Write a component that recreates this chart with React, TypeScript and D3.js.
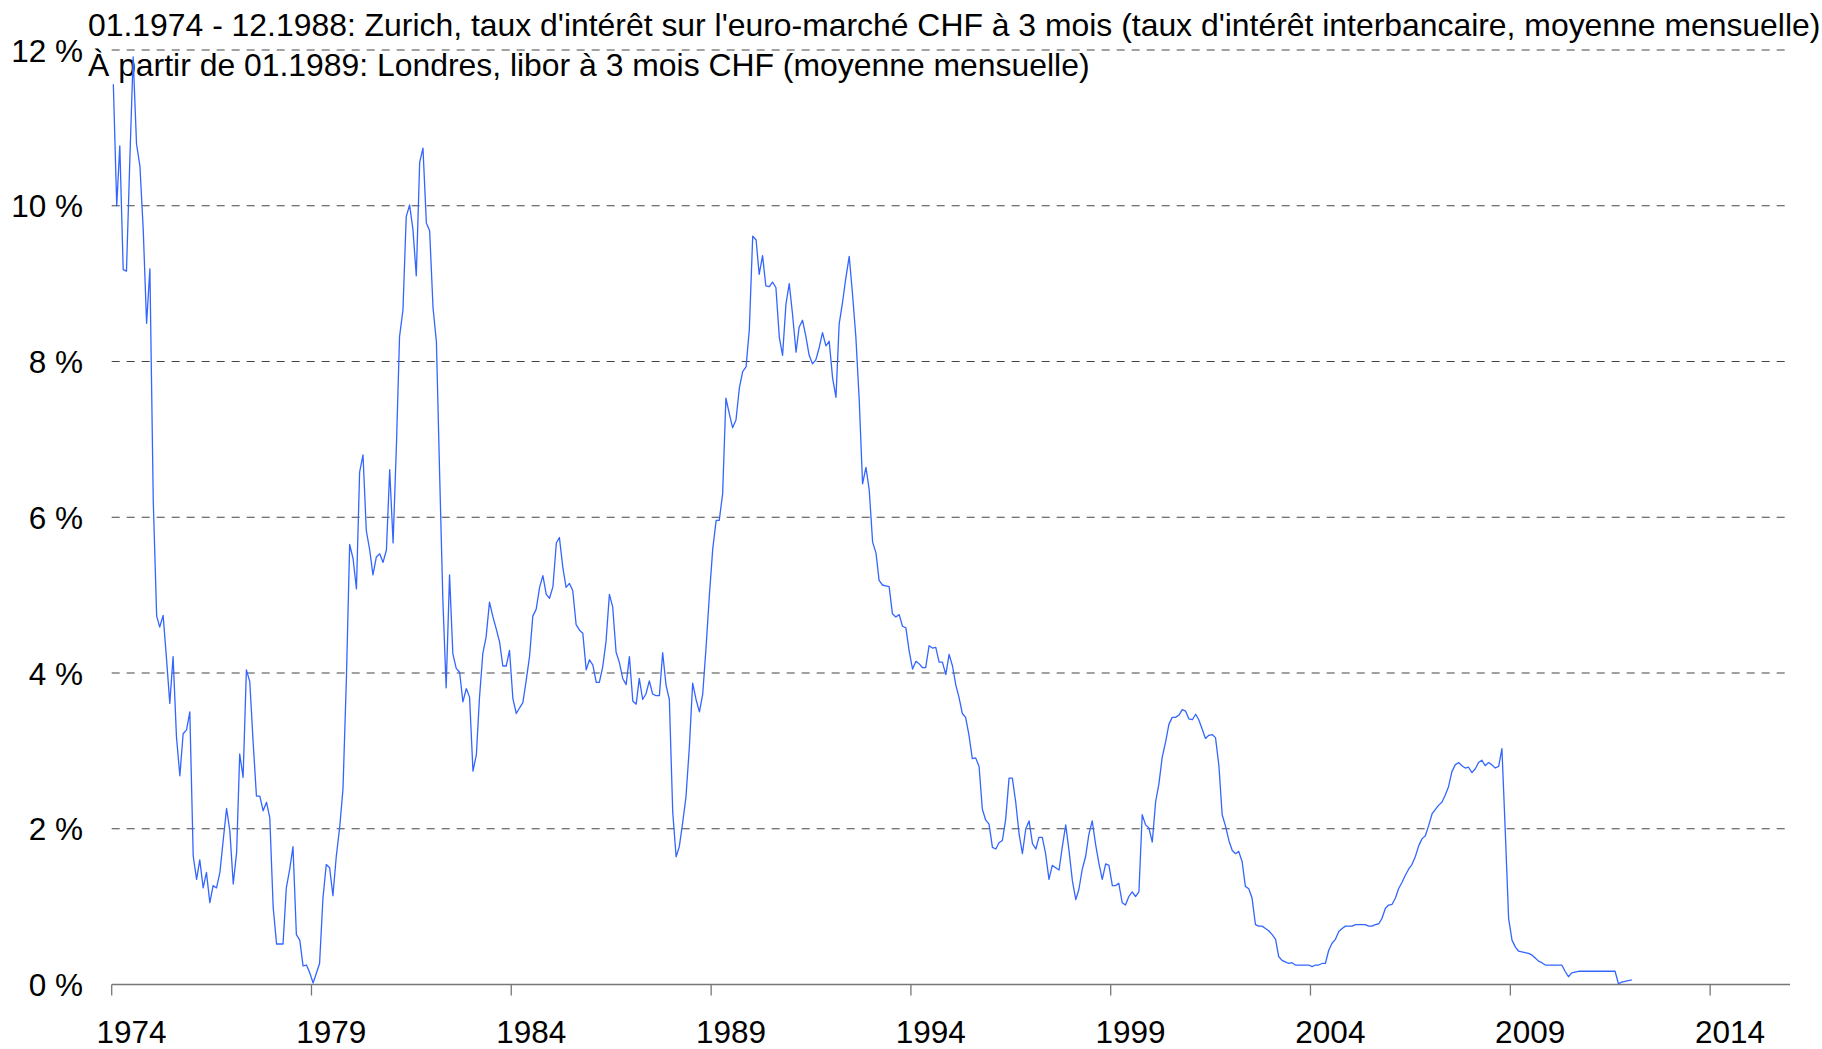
import * as d3 from 'd3'
import { useEffect, useRef } from 'react'

const titleLines = [
  "01.1974 - 12.1988: Zurich, taux d'intérêt sur l'euro-marché CHF à 3 mois (taux d'intérêt interbancaire, moyenne mensuelle)",
  'À partir de 01.1989: Londres, libor à 3 mois CHF (moyenne mensuelle)',
]

const yearTicks = [1974, 1979, 1984, 1989, 1994, 1999, 2004, 2009, 2014]
const percentTicks = [0, 2, 4, 6, 8, 10, 12]

// Zurich euro-market CHF 3 months, monthly average, one row per year
const euroMarketStart = '1974-01'
const euroMarketRates = [
  11.56, 10.0, 10.77, 9.18, 9.16, 10.6, 11.91, 10.79, 10.51, 9.7, 8.49, 9.19,
  6.2, 4.73, 4.59, 4.74, 4.2, 3.61, 4.21, 3.18, 2.68, 3.22, 3.27, 3.5,
  1.65, 1.35, 1.6, 1.24, 1.44, 1.05, 1.27, 1.24, 1.44, 1.85, 2.26, 1.97,
  1.29, 1.7, 2.96, 2.66, 4.04, 3.89, 3.13, 2.42, 2.42, 2.23, 2.34, 2.14,
  0.99, 0.52, 0.52, 0.52, 1.24, 1.48, 1.77, 0.64, 0.57, 0.24, 0.25, 0.15,
  0.02, 0.15, 0.27, 1.11, 1.54, 1.5, 1.14, 1.65, 2.02, 2.51, 3.92, 5.65,
  5.47, 5.08, 6.58, 6.8, 5.83, 5.58, 5.26, 5.49, 5.53, 5.42, 5.58, 6.61,
  5.67, 6.95, 8.32, 8.66, 9.86, 10.01, 9.7, 9.1, 10.56, 10.74, 9.78, 9.68,
  8.69, 8.25, 6.63, 4.93, 3.81, 5.26, 4.25, 4.06, 4.01, 3.63, 3.8, 3.69,
  2.74, 2.95, 3.67, 4.25, 4.46, 4.91, 4.73, 4.57, 4.4, 4.09, 4.09, 4.29,
  3.67, 3.48, 3.55, 3.62, 3.9, 4.21, 4.73, 4.82, 5.1, 5.25, 5.01, 4.96,
  5.11, 5.67, 5.74, 5.36, 5.1, 5.15, 5.06, 4.62, 4.55, 4.51, 4.04, 4.17,
  4.1, 3.88, 3.88, 4.08, 4.4, 5.01, 4.85, 4.27, 4.13, 3.93, 3.85, 4.21,
  3.64, 3.6, 3.93, 3.66, 3.73, 3.9, 3.73, 3.71, 3.71, 4.26, 3.84, 3.66,
  2.21, 1.64, 1.77, 2.08, 2.41, 3.05, 3.87, 3.66, 3.5, 3.73, 4.34, 5.0,
]

// London libor CHF 3 months, monthly average, one row per year
const liborStart = '1989-01'
const liborRates = [
  5.6, 5.96, 5.96, 6.3, 7.53, 7.33, 7.15, 7.25, 7.66, 7.87, 7.93, 8.41,
  9.61, 9.56, 9.12, 9.36, 8.97, 8.96, 9.02, 8.95, 8.31, 8.08, 8.74, 9.0,
  8.59, 8.12, 8.44, 8.53, 8.33, 8.08, 7.97, 8.02, 8.18, 8.37, 8.2, 8.26,
  7.79, 7.54, 8.48, 8.76, 9.07, 9.35, 8.87, 8.31, 7.49, 6.43, 6.64, 6.35,
  5.68, 5.54, 5.19, 5.13, 5.12, 5.11, 4.76, 4.72, 4.75, 4.6, 4.58, 4.28,
  4.05, 4.15, 4.12, 4.07, 4.07, 4.35, 4.32, 4.33, 4.14, 4.14, 3.98, 4.24,
  4.09, 3.84, 3.69, 3.48, 3.43, 3.2, 2.9, 2.91, 2.8, 2.25, 2.11, 2.06,
  1.76, 1.74, 1.82, 1.85, 2.12, 2.65, 2.65, 2.34, 1.93, 1.68, 2.0, 2.1,
  1.81, 1.74, 1.89, 1.89, 1.68, 1.35, 1.53, 1.5, 1.47, 1.77, 2.05, 1.72,
  1.33, 1.09, 1.22, 1.48, 1.64, 1.93, 2.1, 1.8, 1.55, 1.35, 1.55, 1.53,
  1.27, 1.27, 1.3, 1.05, 1.02, 1.13, 1.19, 1.13, 1.19, 2.18, 2.05, 2.01,
  1.83, 2.35, 2.57, 2.92, 3.11, 3.34, 3.43, 3.43, 3.46, 3.53, 3.51, 3.41,
  3.4, 3.47, 3.4, 3.28, 3.16, 3.2, 3.21, 3.17, 2.81, 2.18, 2.03, 1.85,
  1.72, 1.68, 1.71, 1.58, 1.26, 1.23, 1.11, 0.77, 0.75, 0.75, 0.72, 0.69,
  0.64, 0.58, 0.36, 0.31, 0.29, 0.27, 0.28, 0.25, 0.25, 0.25, 0.25, 0.25,
  0.23, 0.25, 0.25, 0.27, 0.27, 0.44, 0.53, 0.58, 0.68, 0.72, 0.75, 0.75,
  0.75, 0.77, 0.77, 0.77, 0.77, 0.75, 0.75, 0.77, 0.78, 0.85, 0.98, 1.02,
  1.03, 1.11, 1.23, 1.31, 1.4, 1.48, 1.54, 1.64, 1.78, 1.87, 1.91, 2.04,
  2.19, 2.25, 2.3, 2.34, 2.43, 2.54, 2.73, 2.82, 2.85, 2.81, 2.78, 2.79,
  2.72, 2.77, 2.85, 2.88, 2.81, 2.85, 2.82, 2.78, 2.8, 3.03, 1.95, 0.85,
  0.57, 0.48, 0.43, 0.42, 0.41, 0.4, 0.38, 0.34, 0.3, 0.28, 0.25, 0.25,
  0.25, 0.25, 0.25, 0.25, 0.17, 0.1, 0.15, 0.16, 0.17, 0.17, 0.17, 0.17,
  0.17, 0.17, 0.17, 0.17, 0.17, 0.17, 0.17, 0.17, 0.01, 0.03, 0.04, 0.05,
  0.06,
]

interface Point {
  date: Date
  value: number
}

const parseMonth = d3.timeParse('%Y-%m')

function toPoints(start: string, values: number[]): Point[] {
  const first = parseMonth(start)!
  // values are monthly averages, placed in the middle of the month
  return values.map((value, i) => ({
    date: d3.timeDay.offset(d3.timeMonth.offset(first, i), 15),
    value,
  }))
}

export default function App() {
  const svgRef = useRef<SVGSVGElement>(null)

  useEffect(() => {
    if (!svgRef.current) return
    d3.select(svgRef.current).selectAll('*').remove()

    const width = 1822
    const height = 1049
    const font = "'Liberation Sans', Arial, sans-serif"
    const svg = d3
      .select(svgRef.current)
      .attr('width', width)
      .attr('height', height)
      .style('font-family', font)

    const data = [
      ...toPoints(euroMarketStart, euroMarketRates),
      ...toPoints(liborStart, liborRates),
    ]

    const left = 111.7
    const right = 1790
    const bottom = 984.5
    const top = 50

    const x = d3
      .scaleTime()
      .domain([new Date(1974, 0, 1), new Date(2016, 0, 1)])
      .range([left, right])

    const y = d3.scaleLinear().domain([0, 12]).range([bottom, top])

    // Dashed gridlines
    svg
      .append('g')
      .selectAll('line')
      .data(percentTicks.filter(d => d > 0))
      .enter()
      .append('line')
      .attr('x1', left)
      .attr('x2', right)
      .attr('y1', d => y(d))
      .attr('y2', d => y(d))
      .attr('stroke', '#444')
      .attr('stroke-width', 1)
      .attr('stroke-dasharray', '8,7')

    // Y labels
    svg
      .append('g')
      .selectAll('text')
      .data(percentTicks)
      .enter()
      .append('text')
      .attr('x', 83)
      .attr('y', d => y(d) + 11.5)
      .attr('text-anchor', 'end')
      .style('font-size', '31.5px')
      .attr('fill', '#000')
      .text(d => `${d} %`)

    // X axis
    svg
      .append('line')
      .attr('x1', left)
      .attr('x2', right)
      .attr('y1', bottom)
      .attr('y2', bottom)
      .attr('stroke', '#777')
      .attr('stroke-width', 1.3)

    svg
      .append('g')
      .selectAll('line')
      .data(yearTicks)
      .enter()
      .append('line')
      .attr('x1', d => x(new Date(d, 0, 1)))
      .attr('x2', d => x(new Date(d, 0, 1)))
      .attr('y1', bottom)
      .attr('y2', bottom + 11)
      .attr('stroke', '#777')
      .attr('stroke-width', 1.3)

    svg
      .append('g')
      .selectAll('text')
      .data(yearTicks)
      .enter()
      .append('text')
      .attr('x', d => x(new Date(d, 6, 1)))
      .attr('y', 1043)
      .attr('text-anchor', 'middle')
      .style('font-size', '31.5px')
      .text(d => d)

    // Titles
    svg
      .append('g')
      .selectAll('text')
      .data(titleLines)
      .enter()
      .append('text')
      .attr('x', 88)
      .attr('y', (d, i) => 36 + i * 40)
      .style('font-size', '31.9px')
      .text(d => d)

    // Rate line
    const line = d3
      .line<Point>()
      .x(d => x(d.date))
      .y(d => y(d.value))

    svg
      .append('path')
      .datum(data)
      .attr('d', line)
      .attr('fill', 'none')
      .attr('stroke', '#3366ff')
      .attr('stroke-width', 1.3)
      .attr('stroke-linejoin', 'round')
  }, [])

  return (
    <svg
      ref={svgRef}
      style={{ position: 'absolute', left: 0, top: 0, display: 'block' }}
    ></svg>
  )
}
